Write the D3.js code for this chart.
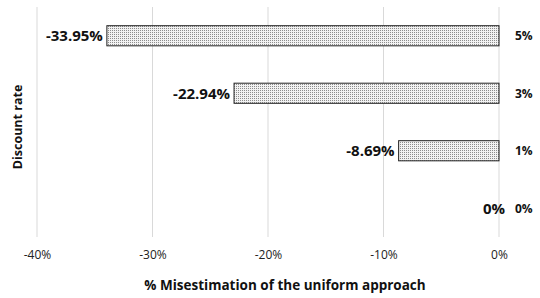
<!DOCTYPE html>
<html>
<head>
<meta charset="utf-8">
<script src="https://cdn.jsdelivr.net/npm/d3@7"></script>
<style>
  body { margin: 0; background: #fff; }
  svg text { font-family: "Open Sans", "Liberation Sans", sans-serif; }
</style>
</head>
<body>
<div id="viz-container"></div>
<script>
// chart data
let rates = ["5%", "3%", "1%", "0%"];
let misestimation = [-33.95, -22.94, -8.69, 0];
let tickValues = [-40, -30, -20, -10, 0];

let width = 540, height = 298;
let margin = {top: 7, right: 41, bottom: 61, left: 37};

let viz = d3.select("#viz-container")
  .append("svg")
    .attr("width", width)
    .attr("height", height)
  ;

let defs = viz.append("defs");
let pat = defs.append("pattern")
    .attr("id", "dots")
    .attr("width", 2)
    .attr("height", 2)
    .attr("patternUnits", "userSpaceOnUse");
pat.append("rect").attr("width", 2).attr("height", 2).attr("fill", "#f2f2f2");
pat.append("rect").attr("width", 1).attr("height", 1).attr("fill", "#8c8c8c");

let x = d3.scaleLinear()
  .domain([-40, 0])
  .range([margin.left, width - margin.right]);

let y = d3.scaleBand()
  .domain(rates)
  .range([margin.top, height - margin.bottom])
  .paddingInner(0.65)
  .paddingOuter(0.325);

// gridlines
viz.append("g")
  .selectAll("line").data(tickValues).enter()
  .append("line")
    .attr("x1", d => x(d))
    .attr("x2", d => x(d))
    .attr("y1", margin.top)
    .attr("y2", height - margin.bottom)
    .attr("stroke", "#d9d9d9")
    .attr("stroke-width", 1)
  ;

// x axis tick labels
let xAxis = d3.axisBottom(x)
  .tickValues(tickValues)
  .tickSize(0)
  .tickPadding(13)
  .tickFormat(d => d + "%");

viz.append("g")
  .attr("transform", "translate(0," + (height - margin.bottom) + ")")
  .call(xAxis)
  .call(g => g.select(".domain").remove())
  .call(g => g.selectAll("text")
      .style("font-size", "12px")
      .style("font-family", "'Open Sans', sans-serif")
      .attr("fill", "#222"));

let data = rates.map((r, i) => ({rate: r, value: misestimation[i]}));

// bars
viz.append("g")
  .selectAll("rect").data(data).enter()
  .append("rect")
    .attr("x", d => x(d.value))
    .attr("y", d => y(d.rate))
    .attr("width", d => x(0) - x(d.value))
    .attr("height", y.bandwidth())
    .attr("fill", "url(#dots)")
    .attr("stroke", "#222")
    .attr("stroke-width", 1)
    .style("display", d => d.value == 0 ? "none" : null)
  ;

// value labels
viz.append("g")
  .selectAll("text").data(data).enter()
  .append("text")
    .attr("x", d => d.value == 0 ? x(0) - 5 : x(d.value) - 4)
    .attr("y", d => y(d.rate) + y.bandwidth() / 2)
    .attr("dy", "0.36em")
    .attr("text-anchor", d => d.value == 0 ? "middle" : "end")
    .style("font-size", "15px")
    .style("font-weight", "bold")
    .attr("fill", "#111")
    .text(d => d.value.toFixed(d.value == 0 ? 0 : 2) + "%")
  ;

// category labels on right
viz.append("g")
  .selectAll("text").data(rates).enter()
  .append("text")
    .attr("x", 515)
    .attr("y", d => y(d) + y.bandwidth() / 2)
    .attr("dy", "0.36em")
    .style("font-size", "12px")
    .style("font-weight", "bold")
    .attr("fill", "#111")
    .text(d => d)
  ;

// axis titles
viz.append("text")
  .attr("x", 285)
  .attr("y", 290)
  .attr("text-anchor", "middle")
  .style("font-size", "13.5px")
  .style("font-weight", "bold")
  .attr("fill", "#111")
  .text("% Misestimation of the uniform approach");

viz.append("text")
  .attr("transform", "translate(22,127) rotate(-90)")
  .attr("text-anchor", "middle")
  .style("font-size", "12.5px")
  .style("font-weight", "bold")
  .attr("fill", "#111")
  .text("Discount rate");
</script>
</body>
</html>
